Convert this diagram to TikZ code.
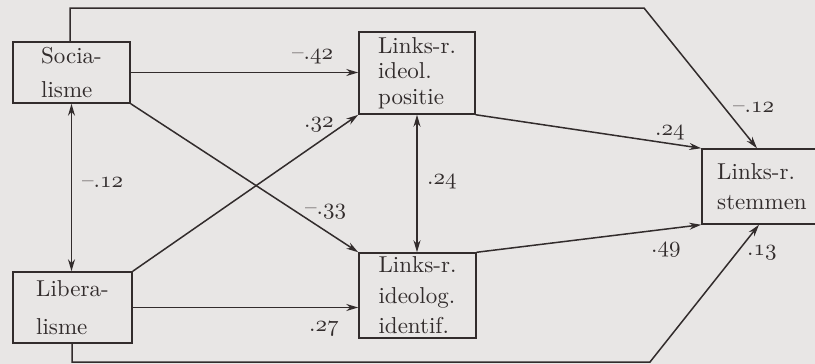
\documentclass[tikz,border=0pt]{standalone}
\usepackage{fontspec}
\setmainfont{lmroman10-regular.otf}
\usetikzlibrary{arrows.meta,calc}
\definecolor{bg}{RGB}{232,230,229}
\definecolor{ink}{RGB}{50,44,44}
\DeclareFontFamily{OML}{myosn}{\skewchar\font=127}
\DeclareFontShape{OML}{myosn}{m}{it}{<-> cmmi10}{}
\newcommand\osn[1]{{\usefont{OML}{myosn}{m}{it}#1}}
\begin{document}
\begin{tikzpicture}[x=1pt,y=-1pt,
  tip/.tip={Stealth[length=12pt,width=7pt]},
  box/.style={draw=ink, line width=1.5pt, inner sep=0pt, align=left, text=ink},
  conn/.style={draw=ink, line width=1.5pt, -tip},
  dconn/.style={draw=ink, line width=1.5pt, tip-tip},
  lab/.style={text=ink, inner sep=0pt, anchor=base west, font=\fontsize{23}{26}\selectfont}]
\fill[bg] (0,0) rectangle (815,364);
\useasboundingbox (0,0) rectangle (815,364);
\clip (0,0) rectangle (815,364);

\node[box, minimum width=117pt, minimum height=61pt, font=\fontsize{23}{34}\selectfont] (soc) at (71.5,72.5) {Socia-\\lisme};
\node[box, minimum width=116pt, minimum height=82pt, font=\fontsize{23}{25.5}\selectfont] (pos) at (417,73) {Links-r.\\ideol.\\positie};
\node[box, minimum width=117pt, minimum height=85pt, font=\fontsize{23}{30.5}\selectfont] (ide) at (417.5,295.5) {Links-r.\\ideolog.\\identif.};
\node[box, minimum width=119pt, minimum height=71pt, font=\fontsize{23}{38}\selectfont] (lib) at (72.5,307.5) {Libera-\\lisme};
\node[box, minimum width=120pt, minimum height=75pt, font=\fontsize{23}{30}\selectfont] (stem) at (762,186.5) {Links-r.\\stemmen};

\coordinate (tl) at (70,8);
\coordinate (tr) at (644,8);
\coordinate (bl) at (72,362);
\coordinate (br) at (650,362);

\draw[conn] (soc.east) -- (soc.east -| pos.west);
\draw[conn] (soc.south east) -- (ide.north west);
\draw[conn] (lib.north east) -- (pos.south west);
\draw[conn] (lib.east) -- (lib.east -| ide.west);
\draw[dconn] (soc.south) -- (soc.south |- lib.north);
\draw[dconn] (pos.south) -- (pos.south |- ide.north);
\draw[conn] (pos.south east) -- (stem.north west);
\draw[conn] (ide.north east) -- (stem.south west);
\draw[conn] (soc.north -| tl) -- (tl) -- (tr) -- ($(stem.north)+(-5,0)$);
\draw[conn] (lib.south -| bl) -- (bl) -- (br) -- ($(stem.south)+(-3,0)$);

\node[lab] (l1) at (292,59) {\textendash.\osn{42}};
\node[lab] (l2) at (304,127) {.\osn{32}};
\node[lab] (l3) at (305,214) {\textendash.\osn{33}};
\node[lab] (l4) at (309,331) {.\osn{27}};
\node[lab] (l5) at (82,187) {\textendash.\osn{12}};
\node[lab] (l6) at (427,184) {.\osn{24}};
\node[lab] (l7) at (655,135) {.\osn{24}};
\node[lab] (l8) at (733,112) {\textendash.\osn{12}};
\node[lab] (l9) at (651,252) {.\osn{49}};
\node[lab] (l10) at (747,255) {.\osn{13}};
\end{tikzpicture}
\end{document}
